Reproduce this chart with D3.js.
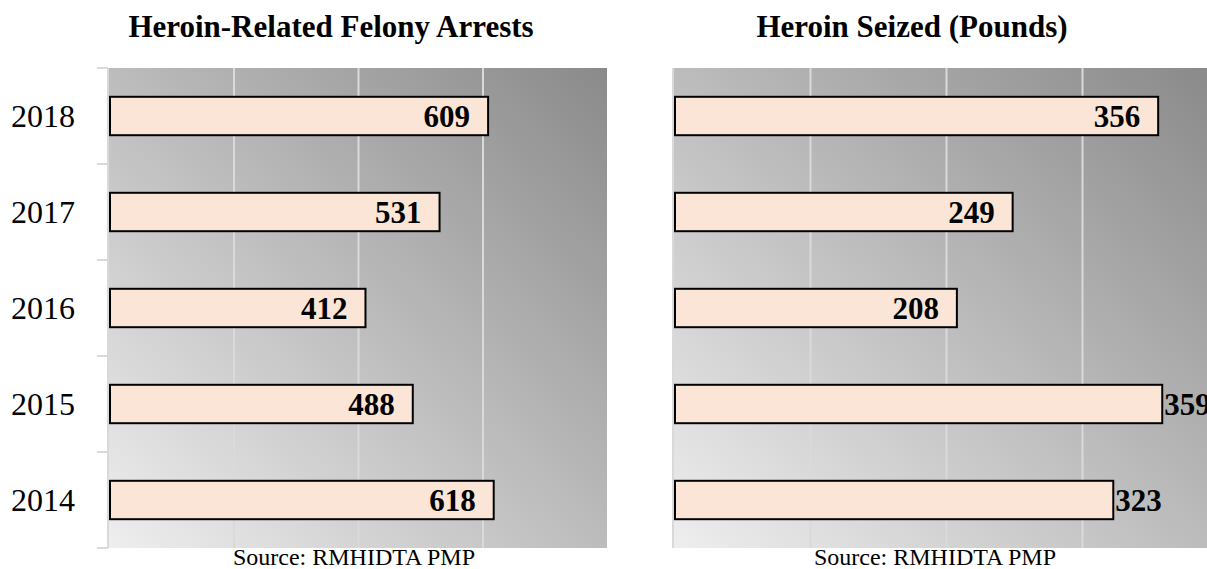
<!DOCTYPE html>
<html>
<head>
<meta charset="utf-8">
<title>Heroin arrests and seizures</title>
<script src="https://d3js.org/d3.v7.min.js"></script>
<style>
  body { margin: 0; background: #fff; font-family: "Liberation Serif", serif; }
  svg text { font-family: "Liberation Serif", serif; fill: #000; }
  .grid line { stroke: #dadada; stroke-width: 2; }
  .grid .domain { display: none; }
  .yaxis .domain { stroke: #d9d9d9; stroke-width: 2; }
  .yaxis line { stroke: #d9d9d9; stroke-width: 2; }
  .yaxis text { font-size: 32px; }
</style>
</head>
<body>
<svg id="chart" width="1207" height="569"></svg>
<script>
// data
const years = [2018, 2017, 2016, 2015, 2014];
const arrests = [609, 531, 412, 488, 618];
const seized = [356, 249, 208, 359, 323];
const arrestTicks = [0, 200, 400, 600, 800];
const seizedTicks = [0, 100, 200, 300, 400];

const svg = d3.select("#chart");
const plotTop = 68, plotBottom = 548;

// diagonal gray gradient for the plot areas
const defs = svg.append("defs");
const grad = defs.append("linearGradient")
  .attr("id", "bg").attr("x1", "0%").attr("y1", "100%").attr("x2", "100%").attr("y2", "0%");
grad.append("stop").attr("offset", "0%").attr("stop-color", "#eeeeee");
grad.append("stop").attr("offset", "100%").attr("stop-color", "#8a8a8a");
defs.append("clipPath").attr("id", "page").append("rect")
  .attr("width", 1207).attr("height", 569);

function panel(opts) {
  const g = svg.append("g").attr("clip-path", "url(#page)");
  const x = d3.scaleLinear().domain(opts.domain).range([opts.left, opts.right]);
  const y = d3.scaleBand().domain(years).range([plotTop, plotBottom])
    .paddingInner(0.6).paddingOuter(0.3);
  const bgRight = Math.min(opts.right, 1207);

  g.append("rect")
    .attr("x", opts.left).attr("y", plotTop)
    .attr("width", bgRight - opts.left).attr("height", plotBottom - plotTop)
    .attr("fill", "url(#bg)");

  g.append("g").attr("class", "grid")
    .attr("transform", "translate(0," + plotBottom + ")")
    .call(d3.axisBottom(x).tickValues(opts.ticks.slice(1, -1))
      .tickSize(-(plotBottom - plotTop)).tickFormat(""));

  // y axis with boundary ticks
  const yAxis = g.append("g").attr("class", "yaxis")
    .attr("transform", "translate(" + (opts.left - 1) + ",0)");
  yAxis.append("line").attr("class", "domain")
    .attr("x1", 0).attr("x2", 0).attr("y1", plotTop).attr("y2", plotBottom);
  if (opts.showYears) {
    const bounds = d3.range(years.length + 1).map(i => plotTop + i * y.step());
    yAxis.selectAll("line.tick").data(bounds).join("line")
      .attr("class", "tick")
      .attr("x1", -11).attr("x2", 0).attr("y1", d => d).attr("y2", d => d);
    yAxis.selectAll("text").data(years).join("text")
      .attr("x", -33).attr("y", d => y(d) + y.bandwidth() / 2)
      .attr("dy", "0.34em").attr("text-anchor", "end").text(d => d);
  }

  const rows = years.map((yr, i) => ({ year: yr, value: opts.values[i] }));
  g.selectAll("rect.bar").data(rows).join("rect")
    .attr("class", "bar")
    .attr("x", x(0) + 1).attr("y", d => y(d.year))
    .attr("width", d => x(d.value) - x(0) - 1).attr("height", y.bandwidth())
    .attr("fill", "#fbe5d6").attr("stroke", "#000").attr("stroke-width", 2);

  g.selectAll("text.val").data(rows).join("text")
    .attr("class", "val")
    .attr("x", d => opts.outside.includes(d.year) ? x(d.value) + 2 : x(d.value) - opts.pad)
    .attr("y", d => y(d.year) + y.bandwidth() / 2)
    .attr("dy", "0.36em")
    .attr("text-anchor", d => opts.outside.includes(d.year) ? "start" : "end")
    .style("font-weight", "bold").style("font-size", "31px")
    .text(d => d.value);

  svg.append("text")
    .attr("x", opts.titleX).attr("y", 37).attr("text-anchor", "middle")
    .style("font-weight", "bold").style("font-size", "31px")
    .text(opts.title);
  svg.append("text")
    .attr("x", opts.sourceX).attr("y", 565).attr("text-anchor", "middle")
    .style("font-size", "24px")
    .text("Source: RMHIDTA PMP");
}

panel({
  title: "Heroin-Related Felony Arrests", titleX: 331, sourceX: 354,
  values: arrests, ticks: arrestTicks, domain: [0, 800],
  left: 109, right: 607, showYears: true, outside: [], pad: 18
});
panel({
  title: "Heroin Seized (Pounds)", titleX: 912, sourceX: 935,
  values: seized, ticks: seizedTicks, domain: [0, 400],
  left: 674, right: 1218, showYears: false, outside: [2015, 2014], pad: 18
});
</script>
</body>
</html>
